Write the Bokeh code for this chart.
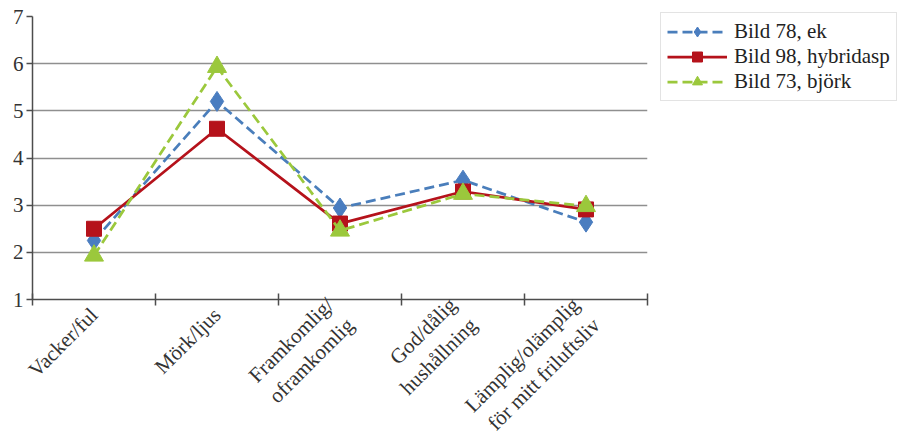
from math import pi
from bokeh.plotting import figure
from bokeh.models import Range1d, FixedTicker, LinearAxis, Legend, LegendItem
from bokeh.embed import file_html
from bokeh.resources import INLINE

categories = ["Vacker/ful", "Mörk/ljus", "Framkomlig/\noframkomlig",
              "God/dålig\nhushållning", "Lämplig/olämplig\nför mitt friluftsliv"]
ek = [2.25, 5.2, 2.94, 3.53, 2.64]
hybridasp = [2.5, 4.62, 2.61, 3.29, 2.91]
bjork = [1.93, 5.93, 2.46, 3.24, 2.98]
series_names = ["Bild 78, ek", "Bild 98, hybridasp", "Bild 73, björk"]
y_ticks = [1, 2, 3, 4, 5, 6, 7]

xs = [i + 0.5 for i in range(len(categories))]
bounds = list(range(len(categories) + 1))
FONT = "Liberation Serif"

p = figure(frame_width=615, frame_height=283, output_backend="svg", toolbar_location=None,
           x_range=Range1d(0, len(categories)), y_range=Range1d(1, 7),
           min_border_left=32, min_border_top=16, min_border_right=0, min_border_bottom=0,
           background_fill_color="white", border_fill_color="white")
p.outline_line_color = None

# grid
p.xgrid.grid_line_color = None
p.ygrid.ticker = FixedTicker(ticks=y_ticks)
p.ygrid.grid_line_color = "#8f8f8f"
p.ygrid.grid_line_width = 1.5

# y axis
p.yaxis.ticker = FixedTicker(ticks=y_ticks, minor_ticks=[])
p.yaxis.axis_line_color = "#4d4d4d"
p.yaxis.axis_line_width = 1.5
p.yaxis.major_tick_line_color = "#4d4d4d"
p.yaxis.major_tick_line_width = 1.5
p.yaxis.major_tick_in = 0
p.yaxis.major_tick_out = 6
p.yaxis.major_label_text_font = FONT
p.yaxis.major_label_text_font_size = "21px"
p.yaxis.major_label_text_color = "#333333"
p.yaxis.major_label_standoff = 3

# x axis (category boundary ticks)
p.xaxis.ticker = FixedTicker(ticks=bounds, minor_ticks=[])
p.xaxis.major_label_overrides = {b: "" for b in bounds}
p.xaxis.axis_line_color = "#4d4d4d"
p.xaxis.axis_line_width = 1.5
p.xaxis.major_tick_line_color = "#4d4d4d"
p.xaxis.major_tick_line_width = 1.5
p.xaxis.major_tick_in = 6
p.xaxis.major_tick_out = 6
p.xaxis.major_label_standoff = 0

lab_axis = LinearAxis(ticker=FixedTicker(ticks=xs, minor_ticks=[]),
                      major_label_overrides={x: c for x, c in zip(xs, categories)})
lab_axis.axis_line_color = None
lab_axis.major_tick_line_color = None
lab_axis.major_label_orientation = pi / 4
lab_axis.major_label_text_font = FONT
lab_axis.major_label_text_font_size = "21px"
lab_axis.major_label_text_color = "#333333"
lab_axis.major_label_standoff = 0
p.add_layout(lab_axis, "below")

blue = "#4A7EBB"
red = "#B5121B"
green = "#9BC83C"

l1 = p.line(xs, ek, line_color=blue, line_width=2.75, line_dash="10 5")
m1 = p.scatter(xs, ek, marker="diamond", size=20, fill_color="#4A7DC0", line_color="#4A7DC0")
l2 = p.line(xs, hybridasp, line_color=red, line_width=2.75)
m2 = p.scatter(xs, hybridasp, marker="square", size=15, fill_color=red, line_color=red)
l3 = p.line(xs, bjork, line_color=green, line_width=2.75, line_dash="10 5")
m3 = p.scatter(xs, bjork, marker="triangle", size=19, fill_color=green, line_color=green)

legend = Legend(items=[LegendItem(label=series_names[0], renderers=[l1, m1]),
                       LegendItem(label=series_names[1], renderers=[l2, m2]),
                       LegendItem(label=series_names[2], renderers=[l3, m3])],
                location=(13, 198))
legend.label_text_font = FONT
legend.label_text_font_size = "21px"
legend.label_text_color = "#222222"
legend.border_line_color = "#c8c8c8"
legend.border_line_width = 1.5
legend.glyph_width = 60
legend.glyph_height = 25
legend.label_height = 25
legend.spacing = 0
legend.padding = 6
legend.margin = 0
legend.label_standoff = 7
p.add_layout(legend, "right")

open("out.html", "w").write(file_html(p, INLINE))
